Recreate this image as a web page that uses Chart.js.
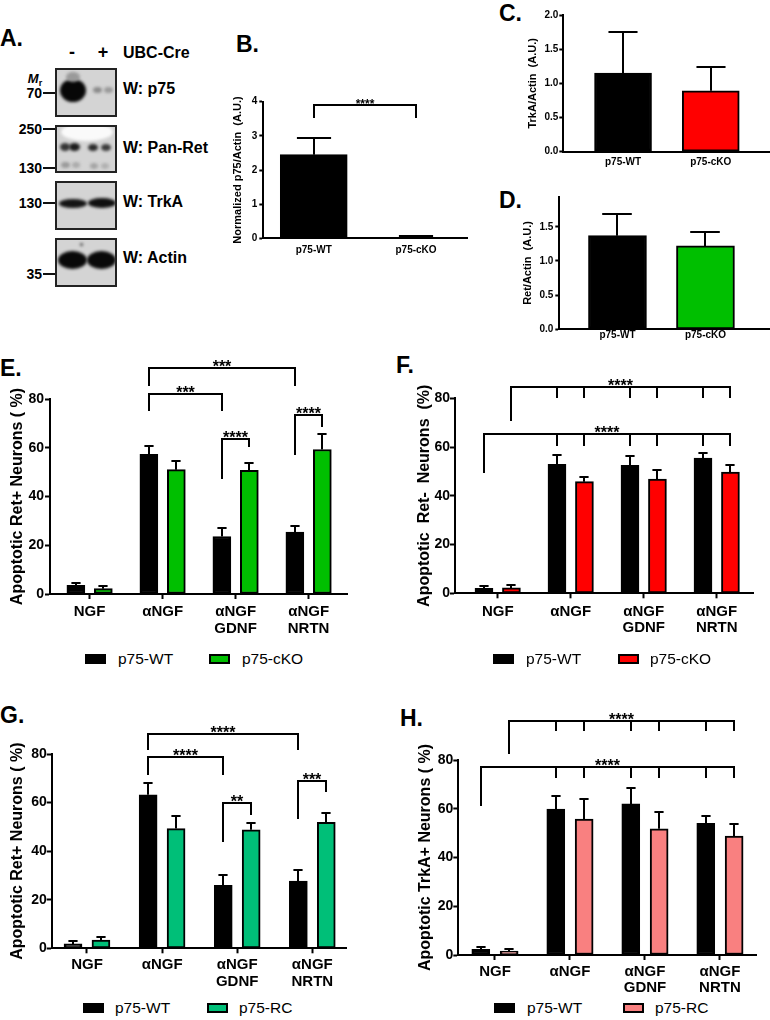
<!DOCTYPE html>
<html><head><meta charset="utf-8">
<script src="https://cdn.jsdelivr.net/npm/chart.js@4.4.1/dist/chart.umd.min.js"></script>
<style>
html,body{margin:0;padding:0;background:#fff;}
body{width:770px;height:1020px;position:relative;overflow:hidden;font-family:'Liberation Sans',Arial,sans-serif;color:#000;}
canvas{position:absolute;}
.t{position:absolute;white-space:nowrap;line-height:1;}
.c{transform:translate(-50%,-50%);}
.l{transform:translateY(-50%);}
.r{transform:translate(-100%,-50%);}
.let{font-weight:bold;font-size:23px;}
.blot{position:absolute;box-sizing:border-box;border:2px solid #222;background:#d4d4d4;overflow:hidden;left:55px;width:62px;}
.blot span{position:absolute;border-radius:50%;filter:blur(1.5px);}
.mw{font-weight:bold;font-size:14px;}
.tk{position:absolute;height:2px;background:#111;left:43px;width:12px;}
.wl{font-weight:bold;font-size:16px;}
.lg{font-size:15.5px;}
.bx{position:absolute;box-sizing:border-box;width:21px;height:10px;border:2px solid #000;}
</style></head>
<body>
<!-- Panel A: western blot -->
<div class="t let l" style="left:0;top:37.5px">A.</div>
<div class="t c" style="left:72px;top:52px;font-weight:bold;font-size:18px">-</div>
<div class="t c" style="left:103px;top:52px;font-weight:bold;font-size:18px">+</div>
<div class="t l" style="left:123px;top:53px;font-weight:bold;font-size:16px">UBC-Cre</div>
<div class="t c" style="left:35px;top:80px;font-weight:bold;font-size:13px"><i>M</i><span style="font-size:9px;vertical-align:-3px">r</span></div>

<div class="blot" style="top:68px;height:49px">
  <span style="left:3px;top:9px;width:26px;height:23px;background:#070707"></span>
  <span style="left:9px;top:2px;width:14px;height:10px;background:#9a9a9a"></span>
  <span style="left:36px;top:17px;width:9px;height:6px;background:#8a8a8a"></span>
  <span style="left:47px;top:17px;width:9px;height:6px;background:#999"></span>
</div>
<div class="blot" style="top:125px;height:48px">
  <span style="left:4px;top:-4px;width:52px;height:18px;background:#fafafa"></span>
  <span style="left:3px;top:16px;width:10px;height:8px;background:#333"></span>
  <span style="left:12px;top:16px;width:11px;height:8px;background:#1a1a1a"></span>
  <span style="left:31px;top:17px;width:10px;height:7px;background:#2a2a2a"></span>
  <span style="left:44px;top:17px;width:10px;height:7px;background:#3a3a3a"></span>
  <span style="left:4px;top:35px;width:9px;height:6px;background:#999"></span>
  <span style="left:15px;top:35px;width:8px;height:6px;background:#aaa"></span>
  <span style="left:33px;top:36px;width:8px;height:6px;background:#a4a4a4"></span>
  <span style="left:44px;top:36px;width:8px;height:6px;background:#b0b0b0"></span>
</div>
<div class="blot" style="top:181px;height:49px">
  <span style="left:2px;top:16px;width:28px;height:9px;background:#141414"></span>
  <span style="left:31px;top:15px;width:28px;height:10px;background:#0f0f0f"></span>
</div>
<div class="blot" style="top:238px;height:49px">
  <span style="left:1px;top:11px;width:29px;height:18px;background:#090909"></span>
  <span style="left:30px;top:11px;width:29px;height:18px;background:#090909"></span>
  <span style="left:23px;top:3px;width:3px;height:3px;background:#444"></span>
</div>
<div class="t mw r" style="left:42px;top:93px">70</div><div class="tk" style="top:92px"></div>
<div class="t mw r" style="left:42px;top:129px">250</div><div class="tk" style="top:128px"></div>
<div class="t mw r" style="left:42px;top:168px">130</div><div class="tk" style="top:167px"></div>
<div class="t mw r" style="left:42px;top:203px">130</div><div class="tk" style="top:202px"></div>
<div class="t mw r" style="left:42px;top:274px">35</div><div class="tk" style="top:273px"></div>
<div class="t wl l" style="left:123px;top:89px">W: p75</div>
<div class="t wl l" style="left:123px;top:148px">W: Pan-Ret</div>
<div class="t wl l" style="left:123px;top:202px">W: TrkA</div>
<div class="t wl l" style="left:123px;top:258px">W: Actin</div>

<div class="t let l" style="left:236px;top:44px">B.</div>
<div class="t let l" style="left:499px;top:13px">C.</div>
<div class="t let l" style="left:499px;top:200px">D.</div>
<div class="t let l" style="left:0;top:367.5px">E.</div>
<div class="t let l" style="left:396px;top:365px">F.</div>
<div class="t let l" style="left:0;top:715px">G.</div>
<div class="t let l" style="left:400px;top:718px">H.</div>

<canvas id="cB"></canvas><canvas id="cC"></canvas><canvas id="cD"></canvas>
<canvas id="cE"></canvas><canvas id="cF"></canvas><canvas id="cG"></canvas><canvas id="cH"></canvas>

<script>
// ---------------- data ----------------
const bCategories = ['p75-WT', 'p75-cKO'];
const bValues = [2.45, 0.03];
const bErrors = [0.50, 0.05];

const cCategories = ['p75-WT', 'p75-cKO'];
const cValues = [1.15, 0.89];
const cErrors = [0.60, 0.35];

const dCategories = ['p75-WT', 'p75-cKO'];
const dValues = [1.37, 1.22];
const dErrors = [0.31, 0.21];

const groupLabels = ['NGF', 'αNGF', ['αNGF', 'GDNF'], ['αNGF', 'NRTN']];

const eWT = [3.6, 57.3, 23.6, 25.4];
const eWTErr = [1.1, 3.4, 3.3, 2.5];
const eCKO = [2.2, 51.0, 50.7, 59.3];
const eCKOErr = [1.0, 3.5, 3.0, 6.4];

const fWT = [2.0, 52.9, 52.5, 55.5];
const fWTErr = [0.9, 3.9, 4.0, 2.0];
const fCKO = [2.2, 45.8, 46.9, 49.7];
const fCKOErr = [1.1, 1.8, 3.7, 3.1];

const gWT = [1.8, 63.2, 25.9, 27.7];
const gWTErr = [1.2, 4.8, 4.3, 4.5];
const gRC = [3.4, 49.3, 48.8, 51.9];
const gRCErr = [1.3, 5.2, 2.8, 3.7];

const hWT = [2.3, 59.9, 62.0, 54.0];
const hWTErr = [0.8, 5.5, 6.7, 3.0];
const hRC = [1.6, 55.8, 51.8, 48.8];
const hRCErr = [0.7, 8.4, 6.7, 5.0];

// significance brackets: endpoints [group, series], bracket height and leg ends (data units)
const bBrackets = [
  {from: [0, 0], to: [1, 0], y: 3.9, fromEnd: 3.52, toEnd: 3.52, text: '****'}
];
const eBrackets = [
  {from: [1, 0], to: [3, 0], y: 92.6, fromEnd: 85.4, toEnd: 85.2, text: '***'},
  {from: [1, 0], to: [2, 0], y: 82.0, fromEnd: 75.0, toEnd: 75.0, text: '***'},
  {from: [2, 0], to: [2, 1], y: 63.5, fromEnd: 47.3, toEnd: 60.4, text: '****'},
  {from: [3, 0], to: [3, 1], y: 73.4, fromEnd: 57.0, toEnd: 68.7, text: '****'}
];
const multiTicks = [[1, 0], [1, 1], [2, 0], [2, 1], [3, 0]];
const fBrackets = [
  {from: [0, 1], to: [3, 1], y: 84.5, fromEnd: 70.7, toEnd: 80.0, ticks: multiTicks, tickEnd: 80.0, text: '****'},
  {from: [0, 0], to: [3, 1], y: 65.3, fromEnd: 49.2, toEnd: 60.6, ticks: multiTicks, tickEnd: 60.6, text: '****'}
];
const gBrackets = [
  {from: [1, 0], to: [3, 0], y: 88.2, fromEnd: 81.6, toEnd: 81.6, text: '****'},
  {from: [1, 0], to: [2, 0], y: 78.9, fromEnd: 71.3, toEnd: 71.3, text: '****'},
  {from: [2, 0], to: [2, 1], y: 59.9, fromEnd: 43.9, toEnd: 54.9, text: '**'},
  {from: [3, 0], to: [3, 1], y: 69.0, fromEnd: 53.2, toEnd: 64.5, text: '***'}
];
const hBrackets = [
  {from: [0, 1], to: [3, 1], y: 96.1, fromEnd: 82.3, toEnd: 91.9, ticks: multiTicks, tickEnd: 91.9, text: '****'},
  {from: [0, 0], to: [3, 1], y: 77.0, fromEnd: 61.1, toEnd: 72.5, ticks: multiTicks, tickEnd: 72.5, text: '****'}
];

// ---------------- styles ----------------
const FONT = "'Liberation Sans', Arial, sans-serif";
const BLACK = '#000000';
const GREEN = '#00bf00';
const RED = '#ff0000';
const TEAL = '#00bf78';
const PINK = '#f98080';

Chart.defaults.font.family = FONT;
Chart.defaults.color = '#000';

const errorBarPlugin = {
  id: 'errorBars',
  afterDatasetsDraw(chart) {
    const ctx = chart.ctx, ys = chart.scales.y;
    ctx.save();
    ctx.strokeStyle = '#000';
    ctx.lineWidth = 2;
    chart.data.datasets.forEach((ds, di) => {
      const meta = chart.getDatasetMeta(di);
      meta.data.forEach((bar, i) => {
        const top = Math.round(ys.getPixelForValue(ds.data[i].y + ds.errors[i]));
        const half = bar.width * 0.255;
        const x = Math.round(bar.x);
        ctx.beginPath();
        ctx.moveTo(x, bar.y); ctx.lineTo(x, top);
        ctx.moveTo(x - half, top); ctx.lineTo(x + half, top);
        ctx.stroke();
      });
    });
    ctx.restore();
  }
};

const bracketPlugin = {
  id: 'brackets',
  afterDatasetsDraw(chart, args, opts) {
    const items = opts.items || [];
    if (!items.length) return;
    const ctx = chart.ctx, ys = chart.scales.y;
    const px = (g, s) => Math.round(chart.getDatasetMeta(s).data[g].x);
    const py = v => Math.round(ys.getPixelForValue(v));
    ctx.save();
    ctx.strokeStyle = '#000'; ctx.fillStyle = '#000';
    ctx.lineWidth = 2; ctx.lineJoin = 'miter'; ctx.lineCap = 'butt';
    ctx.font = 'bold ' + opts.size + 'px ' + FONT;
    ctx.textAlign = 'center'; ctx.textBaseline = 'alphabetic';
    items.forEach(b => {
      const xa = px(b.from[0], b.from[1]), xb = px(b.to[0], b.to[1]);
      const yy = py(b.y);
      ctx.beginPath();
      ctx.moveTo(xa, py(b.fromEnd));
      ctx.lineTo(xa, yy); ctx.lineTo(xb, yy);
      ctx.lineTo(xb, py(b.toEnd));
      ctx.stroke();
      (b.ticks || []).forEach(t => {
        const xt = px(t[0], t[1]);
        ctx.beginPath(); ctx.moveTo(xt, yy); ctx.lineTo(xt, py(b.tickEnd)); ctx.stroke();
      });
      ctx.fillText(b.text, (xa + xb) / 2, yy + opts.size * 0.27);
    });
    ctx.restore();
  }
};

function barChart(id, g, o) {
  const cv = document.getElementById(id);
  cv.width = g.w; cv.height = g.h;
  cv.style.left = g.x + 'px'; cv.style.top = g.y + 'px';
  const padTop = g.area.t - g.y, padRight = g.x + g.w - g.area.r;
  const yW = g.area.l - g.x, xH = g.y + g.h - g.area.b;
  const n = o.series.length;
  const datasets = o.series.map((s, si) => ({
    label: s.label,
    data: s.values.map((v, i) => ({x: i + 1 + (n > 1 ? (si === 0 ? -1 : 1) * o.offset : 0), y: v})),
    errors: s.errors,
    backgroundColor: s.color,
    borderColor: '#000', borderWidth: 2, borderSkipped: false,
    grouped: false, barThickness: o.barW
  }));
  const tickFont = {size: o.tickSize, weight: 'bold'};
  return new Chart(cv, {
    type: 'bar',
    data: {datasets},
    options: {
      responsive: false, animation: false, devicePixelRatio: 1, events: [],
      layout: {padding: {left: 0, top: padTop, right: padRight, bottom: 0}},
      plugins: {legend: {display: false}, tooltip: {enabled: false},
        brackets: {items: o.brackets || [], size: o.starSize || 16}},
      scales: {
        x: {
          type: 'linear', min: o.xMin, max: o.xMax, offset: false,
          afterFit: s => { s.height = xH; },
          afterBuildTicks: s => { s.ticks = o.labels.map((_, i) => ({value: i + 1})); },
          ticks: {autoSkip: false, maxRotation: 0, minRotation: 0, padding: o.xPad,
            font: {size: o.labelSize, weight: 'bold', lineHeight: 1.1},
            callback: (v, i) => o.labels[i]},
          grid: {offset: false, drawOnChartArea: false, drawTicks: o.xTicks, tickLength: 5, tickWidth: 2, tickColor: '#000'},
          border: {display: true, color: '#000', width: 2}
        },
        y: {
          min: 0, max: o.yMax,
          afterFit: s => { s.width = yW; },
          ticks: {stepSize: o.yStep, includeBounds: false, padding: o.yPad, font: tickFont,
            callback: v => o.yDec ? v.toFixed(o.yDec) : v},
          grid: {drawOnChartArea: false, drawTicks: true, tickLength: o.yTickLen, tickWidth: 2, tickColor: '#000'},
          border: {display: true, color: '#000', width: 2},
          title: {display: true, text: o.yTitle, color: '#000',
            font: {size: o.titleSize, weight: 'bold', lineHeight: 1.2},
            padding: {top: o.titlePad, bottom: 0}}
        }
      }
    },
    plugins: [errorBarPlugin, bracketPlugin]
  });
}

// Panel B
barChart('cB', {x: 230, y: 80, w: 250, h: 190, area: {l: 263.3, t: 101.7, r: 467.3, b: 238.3}}, {
  labels: bCategories, xMin: 0.507, xMax: 2.501, barW: 67,
  series: [{label: 'B', values: bValues, errors: bErrors, color: [BLACK, BLACK]}],
  yMax: 4, yStep: 1, yDec: 0, tickSize: 10, yTickLen: 4, yPad: 2,
  yTitle: 'Normalized p75/Actin  (A.U.)', titleSize: 11, titlePad: 1.7,
  labelSize: 10, xPad: 6, xTicks: false, brackets: bBrackets, starSize: 12
});

// Panel C
barChart('cC', {x: 490, y: 0, w: 280, h: 180, area: {l: 563.3, t: 15, r: 769, b: 151.7}}, {
  labels: cCategories, xMin: 0.319, xMax: 2.664, barW: 57,
  series: [{label: 'C', values: cValues, errors: cErrors, color: [BLACK, RED]}],
  yMax: 2, yStep: 0.5, yDec: 1, tickSize: 10, yTickLen: 4, yPad: 1,
  yTitle: 'TrkA/Actin  (A.U.)', titleSize: 11, titlePad: 36.7,
  labelSize: 10, xPad: 5, xTicks: false
});

// Panel D
barChart('cD', {x: 490, y: 180, w: 280, h: 165, area: {l: 559.3, t: 196.7, r: 769, b: 329.3}}, {
  labels: dCategories, xMin: 0.339, xMax: 2.722, barW: 58,
  series: [{label: 'D', values: dValues, errors: dErrors, color: [BLACK, GREEN]}],
  yMax: 1.94, yStep: 0.5, yDec: 1, tickSize: 10, yTickLen: 4, yPad: 2,
  yTitle: 'Ret/Actin  (A.U.)', titleSize: 11, titlePad: 31.7,
  labelSize: 10, xPad: 0, xTicks: false
});

// Panel E
barChart('cE', {x: 0, y: 340, w: 360, h: 300, area: {l: 50, t: 399, r: 347, b: 594}}, {
  labels: groupLabels, xMin: 0.4575, xMax: 4.526, offset: 0.188, barW: 18,
  series: [{label: 'p75-WT', values: eWT, errors: eWTErr, color: BLACK},
           {label: 'p75-cKO', values: eCKO, errors: eCKOErr, color: GREEN}],
  yMax: 80, yStep: 20, tickSize: 14, yTickLen: 5, yPad: 1,
  yTitle: 'Apoptotic Ret+ Neurons ( %)', titleSize: 16, titlePad: 8.4,
  labelSize: 15, xPad: 5, xTicks: true, brackets: eBrackets
});

// Panel F
barChart('cF', {x: 390, y: 340, w: 380, h: 300, area: {l: 455, t: 398.3, r: 753, b: 593.3}}, {
  labels: groupLabels, xMin: 0.415, xMax: 4.497, offset: 0.188, barW: 18,
  series: [{label: 'p75-WT', values: fWT, errors: fWTErr, color: BLACK},
           {label: 'p75-cKO', values: fCKO, errors: fCKOErr, color: RED}],
  yMax: 80, yStep: 20, tickSize: 14, yTickLen: 5, yPad: 0,
  yTitle: 'Apoptotic  Ret-  Neurons  (%)', titleSize: 16, titlePad: 25.4,
  labelSize: 15, xPad: 5, xTicks: true, brackets: fBrackets
});

// Panel G
barChart('cG', {x: 0, y: 695, w: 360, h: 300, area: {l: 51.7, t: 754, r: 346.7, b: 948.3}}, {
  labels: groupLabels, xMin: 0.530, xMax: 4.458, offset: 0.186, barW: 18,
  series: [{label: 'p75-WT', values: gWT, errors: gWTErr, color: BLACK},
           {label: 'p75-RC', values: gRC, errors: gRCErr, color: TEAL}],
  yMax: 80, yStep: 20, tickSize: 14, yTickLen: 5, yPad: 0,
  yTitle: 'Apoptotic Ret+ Neurons ( %)', titleSize: 16, titlePad: 8.4,
  labelSize: 15, xPad: 3.5, xTicks: true, brackets: gBrackets
});

// Panel H
barChart('cH', {x: 390, y: 695, w: 380, h: 300, area: {l: 458.3, t: 760, r: 756.7, b: 955}}, {
  labels: groupLabels, xMin: 0.511, xMax: 4.490, offset: 0.189, barW: 18,
  series: [{label: 'p75-WT', values: hWT, errors: hWTErr, color: BLACK},
           {label: 'p75-RC', values: hRC, errors: hRCErr, color: PINK}],
  yMax: 80, yStep: 20, tickSize: 14, yTickLen: 5, yPad: 0,
  yTitle: 'Apoptotic TrkA+ Neurons ( %)', titleSize: 16, titlePad: 26.4,
  labelSize: 15, xPad: 3.5, xTicks: true, brackets: hBrackets
});

// legends (HTML)
function legend(entries) {
  entries.forEach(e => {
    const b = document.createElement('div');
    b.className = 'bx';
    b.style.left = e.bx + 'px'; b.style.top = (e.cy - 5) + 'px'; b.style.background = e.color;
    document.body.appendChild(b);
    const t = document.createElement('div');
    t.className = 't l lg';
    t.style.left = e.tx + 'px'; t.style.top = e.cy + 'px';
    t.textContent = e.text;
    document.body.appendChild(t);
  });
}
legend([
  {bx: 85, tx: 118, cy: 658.5, color: BLACK, text: 'p75-WT'},
  {bx: 209, tx: 242, cy: 658.5, color: GREEN, text: 'p75-cKO'},
  {bx: 493, tx: 526, cy: 658.5, color: BLACK, text: 'p75-WT'},
  {bx: 618, tx: 650, cy: 658.5, color: RED, text: 'p75-cKO'},
  {bx: 83, tx: 115, cy: 1008, color: BLACK, text: 'p75-WT'},
  {bx: 207, tx: 239, cy: 1008, color: TEAL, text: 'p75-RC'},
  {bx: 494, tx: 527, cy: 1008, color: BLACK, text: 'p75-WT'},
  {bx: 623, tx: 655, cy: 1008, color: PINK, text: 'p75-RC'}
]);
</script>
</body></html>
